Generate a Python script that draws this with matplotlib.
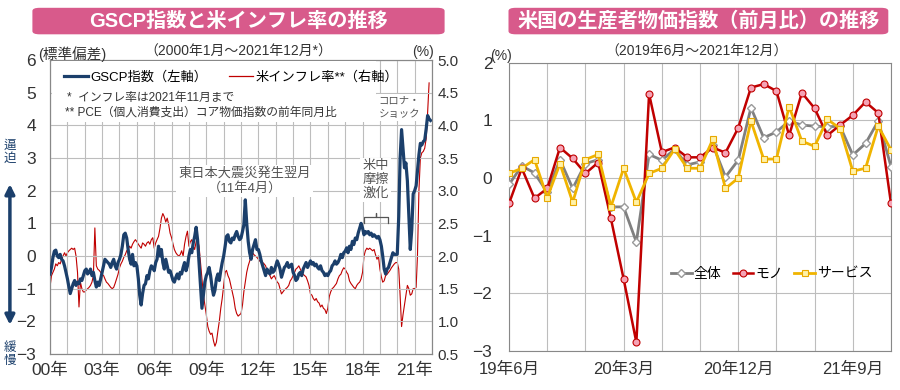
import numpy as np
import pandas as pd
import matplotlib
matplotlib.use('Agg')
import matplotlib.pyplot as plt
from matplotlib.lines import Line2D
from matplotlib.patches import FancyBboxPatch, Rectangle

plt.rcParams['font.family'] = ['Liberation Sans', 'Noto Sans CJK JP', 'DejaVu Sans']

# GSCP index, 2000-01 .. 2021-12 (standard deviations), one row per year
gscp = [
    -0.55, -0.35, -0.05, 0.15, 0.18, 0.0, -0.05, 0.05, -0.1, -0.15, -0.3, -0.5,
    -0.7, -0.95, -1.15, -1.0, -0.85, -0.75, -0.9, -0.8, -0.85, -0.7, -0.75, -0.6,
    -0.45, -0.4, -0.55, -0.5, -0.4, -0.6, -0.5, -0.75, -0.95, -0.8, -0.9, -0.7,
    -0.5, -0.3, -0.1, -0.15, -0.2, -0.25, -0.35, -0.2, -0.1, -0.3, -0.4, -0.2,
    -0.1, 0.05, 0.3, 0.65, 0.7, 0.55, 0.2, -0.1, -0.25, 0.05, -0.3, -0.2,
    -0.3, -0.7, -1.2, -1.5, -1.15, -0.9, -0.85, -0.6, -0.7, -0.45, -0.3, -0.35,
    -0.45, -0.2, -0.1, 0.3, 0.0, 0.2, -0.2, -0.4, -0.1, -0.3, -0.5, -0.45,
    -0.6, -0.75, -0.8, -0.65, -0.55, -0.7, -0.5, -0.55, -0.35, -0.2, -0.45, -0.3,
    0.0, 0.2, 0.1, 0.4, 0.6, 0.88, 0.5, -0.2, -0.9, -1.6, -1.2, -0.8,
    -0.6, -0.5, -0.35, -0.6, -0.95, -1.2, -1.05, -0.7, -0.55, -0.75, -0.45, -0.2,
    0.0, 0.3, 0.6, 0.65, 0.45, 0.4, 0.55, 0.5, 0.65, 0.75, 0.6, 0.5,
    0.55, 0.75, 0.95, 1.72, 1.0, 0.45, 0.1, -0.1, 0.2, 0.35, 0.5, 0.2,
    0.2, 0.05, -0.15, -0.3, -0.45, -0.6, -0.4, -0.5, -0.55, -0.35, -0.5, -0.45,
    -0.3, -0.15, -0.25, -0.4, -0.65, -0.5, -0.35, -0.3, -0.2, -0.35, -0.3, -0.25,
    -0.5, -0.6, -0.75, -0.7, -0.55, -0.5, -0.6, -0.4, -0.3, -0.2, -0.35, -0.25,
    -0.15, -0.25, -0.2, -0.3, -0.25, -0.35, -0.4, -0.3, -0.45, -0.5, -0.6, -0.55,
    -0.6, -0.5, -0.45, -0.3, -0.25, -0.15, -0.25, -0.2, -0.1, 0.05, -0.05, 0.1,
    0.15, 0.25, 0.1, 0.3, 0.2, 0.45, 0.35, 0.55, 0.5, 0.7, 0.85, 1.0,
    0.85, 0.65, 0.75, 0.7, 0.75, 0.65, 0.7, 0.6, 0.65, 0.6, 0.55, 0.6,
    0.5, 0.3, 0.0, -0.4, -0.55, -0.4, -0.35, -0.2, -0.05, 0.1, 0.05, 0.05,
    0.05, 1.2, 3.0, 3.87, 3.3, 2.7, 2.85, 2.3, 1.2, 0.2, 0.8, 1.9,
    2.0, 2.15, 2.6, 3.1, 3.45, 3.4, 3.5, 3.55, 3.9, 4.3, 4.2, 4.15,
]

# US core PCE inflation, year on year (%), 2000-01 .. 2021-11
core_pce = [
    1.53, 1.70, 1.75, 1.80, 1.88, 1.85, 1.90, 1.88, 1.95, 2.00, 2.05, 2.00,
    2.05, 2.08, 2.10, 2.12, 2.10, 2.12, 2.00, 1.75, 1.22, 1.60, 1.50, 1.45,
    1.45, 1.48, 1.50, 1.52, 1.55, 1.60, 1.70, 2.43, 1.85, 1.80, 1.78, 1.75,
    1.72, 1.70, 1.65, 1.60, 1.58, 1.55, 1.52, 1.50, 1.52, 1.58, 1.65, 1.72,
    1.82, 1.88, 1.92, 1.98, 2.02, 2.08, 2.10, 2.15, 2.12, 2.18, 2.22, 2.25,
    2.22, 2.18, 2.15, 2.12, 2.20, 2.18, 2.15, 2.20, 2.22, 2.18, 2.25, 2.28,
    2.12, 2.20, 2.25, 2.30, 2.42, 2.58, 2.65, 2.60, 2.52, 2.58, 2.48, 2.35,
    2.28, 2.18, 2.10, 2.05, 2.02, 2.00, 2.02, 2.08, 2.00, 2.18, 2.30, 2.38,
    2.15, 2.22, 2.25, 2.15, 2.10, 2.22, 2.25, 2.15, 1.90, 1.65, 1.40, 1.25,
    1.10, 0.92, 0.85, 0.80, 0.82, 0.70, 0.62, 0.68, 0.85, 1.00, 1.20, 1.35,
    1.55, 1.75, 1.78, 1.70, 1.65, 1.55, 1.45, 1.35, 1.20, 1.12, 1.08, 1.10,
    1.12, 1.25, 1.45, 1.60, 1.75, 1.85, 1.92, 2.00, 2.05, 2.02, 2.00, 1.98,
    1.95, 1.92, 1.95, 1.90, 1.88, 1.85, 1.78, 1.75, 1.70, 1.65, 1.68, 1.70,
    1.65, 1.60, 1.58, 1.50, 1.42, 1.45, 1.48, 1.50, 1.52, 1.55, 1.62, 1.65,
    1.70, 1.75, 1.80, 1.82, 1.85, 1.80, 1.75, 1.72, 1.70, 1.68, 1.62, 1.55,
    1.42, 1.40, 1.35, 1.32, 1.35, 1.30, 1.28, 1.22, 1.25, 1.20, 1.18, 1.12,
    1.20, 1.38, 1.45, 1.50, 1.52, 1.55, 1.58, 1.65, 1.70, 1.72, 1.78, 1.82,
    1.80, 1.75, 1.72, 1.62, 1.58, 1.55, 1.52, 1.50, 1.55, 1.58, 1.60, 1.65,
    1.75, 2.00, 2.08, 2.12, 2.10, 2.12, 2.10, 2.08, 2.10, 2.02, 1.95, 2.00,
    1.80, 1.68, 1.60, 1.62, 1.70, 1.72, 1.75, 1.78, 1.82, 1.85, 1.88, 1.90,
    1.90, 1.80, 1.40, 0.92, 1.10, 1.25, 1.40, 1.55, 1.50, 1.40, 1.42, 1.50,
    1.50, 1.52, 2.00, 3.00, 3.50, 3.58, 3.60, 3.65, 3.80, 4.20, 4.65,
]
year_ticks = ['00年', '03年', '06年', '09年', '12年', '15年', '18年', '21年']

# US PPI, month on month (%), 2019-06 .. 2021-12
ppi_total = [-0.11, 0.21, 0.09, -0.25, 0.32, -0.18, 0.25, 0.32, -0.50, -0.50, -1.11,
             0.41, 0.31, 0.50, 0.23, 0.28, 0.58, 0.02, 0.31, 1.22, 0.70, 0.80,
             0.99, 0.92, 0.90, 0.89, 0.90, 0.40, 0.60, 0.99, 0.20]
ppi_goods = [-0.44, 0.17, -0.35, -0.18, 0.53, 0.34, 0.08, 0.27, -0.70, -1.75, -2.85,
             1.46, 0.45, 0.53, 0.36, 0.36, 0.53, 0.44, 0.87, 1.57, 1.63, 1.51,
             0.74, 1.48, 1.21, 0.74, 0.92, 1.09, 1.32, 1.13, -0.44]
ppi_services = [0.08, 0.17, 0.32, -0.34, 0.25, -0.42, 0.32, 0.41, -0.50, 0.17, -0.42,
                0.08, 0.17, 0.50, 0.17, 0.17, 0.67, -0.18, 0.0, 0.99, 0.33, 0.33,
                1.24, 0.64, 0.55, 1.02, 0.86, 0.12, 0.17, 0.90, 0.49]
ppi_ticks = ['19年6月', '20年3月', '20年12月', '21年9月']

navy = '#1b3f6b'
red = '#c00000'
pink = '#d85a8b'
txt = '#333333'
grid_c = '#bdbdbd'

fig = plt.figure(figsize=(9, 3.9), dpi=100)

# ---------- left panel ----------
dates = pd.date_range('2000-01-01', periods=len(gscp), freq='MS')
pce_dates = dates[:len(core_pce)]

ax = fig.add_axes([0.0556, 0.0923, 0.4244, 0.7538])
ax2 = ax.twinx()
ax2.plot(pce_dates, core_pce, color=red, lw=0.8)
ax.plot(dates, gscp, color=navy, lw=2.3, zorder=3)
ax.set_zorder(ax2.get_zorder() + 1)
ax.patch.set_visible(False)

ax.set_ylim(-3, 6)
ax2.set_ylim(0.5, 5.0)
ax.set_yticks(range(-3, 7))
ax2.set_yticks(np.arange(0.5, 5.01, 0.5))
ax2.set_yticklabels([f'{v:.1f}' for v in np.arange(0.5, 5.01, 0.5)])
ax.set_xlim(pd.Timestamp('2000-01-01'), pd.Timestamp('2022-01-01'))
ax.set_xticks(pd.date_range('2000-01-01', '2021-01-01', freq='36MS'))
ax.set_xticklabels(year_ticks)
ax.set_xticks(pd.date_range('2000-01-01', '2022-01-01', freq='12MS'), minor=True)
ax.grid(True, which='both', axis='x', color=grid_c, lw=0.8)
ax.grid(True, which='major', axis='y', color=grid_c, lw=0.8)
ax.tick_params(axis='y', length=0, pad=10, labelsize=12.5, labelcolor=txt)
ax.tick_params(axis='x', which='both', length=0, pad=6, labelsize=12.5, labelcolor=txt)
ax2.tick_params(axis='y', length=0, pad=4, labelsize=11, labelcolor=txt)
for a in (ax, ax2):
    for s in a.spines.values():
        s.set_color('#888888')

# legend / note box
ax.add_patch(Rectangle((0.004, 0.79), 0.85, 0.205, transform=ax.transAxes,
                       facecolor='white', edgecolor='none', zorder=4))
handles = [Line2D([], [], color=navy, lw=2.3), Line2D([], [], color=red, lw=0.9)]
ax.legend(handles, ['GSCP指数（左軸）', '米インフレ率**（右軸）'], loc='upper left',
          bbox_to_anchor=(0.01, 1.0), ncol=2, frameon=False, fontsize=9.5,
          handlelength=1.8, handletextpad=0.2, columnspacing=1.6, borderpad=0.3)
ax.text(0.045, 0.872, '*  インフレ率は2021年11月まで', transform=ax.transAxes,
        fontsize=8.5, color=txt, va='center', zorder=5)
ax.text(0.04, 0.822, '** PCE（個人消費支出）コア物価指数の前年同月比', transform=ax.transAxes,
        fontsize=8.5, color=txt, va='center', zorder=5)

box = dict(facecolor='white', edgecolor='none', pad=1.5)
ax.text(0.51, 0.588, '東日本大震災発生翌月\n（11年4月）', transform=ax.transAxes,
        ha='center', va='center', fontsize=9.5, color='#555555', bbox=box,
        linespacing=1.2, zorder=5)
ax.text(0.853, 0.592, '米中\n摩擦\n激化', transform=ax.transAxes, ha='center',
        va='center', fontsize=9.5, color='#555555', bbox=box, linespacing=1.15,
        zorder=5)
ax.text(0.915, 0.838, 'コロナ・\nショック', transform=ax.transAxes, ha='center',
        va='center', fontsize=7.5, color='#555555', bbox=box, linespacing=1.4,
        zorder=5)
bx = [0.823, 0.823, 0.853, 0.853, 0.853, 0.853, 0.885, 0.885]
by = [0.445, 0.465, 0.465, 0.48, 0.48, 0.465, 0.465, 0.445]
ax.plot(bx, by, color='#555555', lw=0.9, transform=ax.transAxes, zorder=5)

fig.text(0.042, 0.86, '(標準偏差)', fontsize=10.5, color=txt, va='center')
fig.text(0.265, 0.868, '（2000年1月～2021年12月*）', fontsize=10, color=txt,
         ha='center', va='center')
fig.text(0.47, 0.866, '(%)', fontsize=10, color=txt, ha='center', va='center')

# pressure arrow
fig.text(0.011, 0.61, '逼\n迫', fontsize=9, color=navy, ha='center', va='center',
         linespacing=1.1)
fig.text(0.011, 0.092, '緩\n慢', fontsize=9, color=navy, ha='center', va='center',
         linespacing=1.1)
ax.annotate('', xy=(0.011, 0.535), xytext=(0.011, 0.16), xycoords='figure fraction',
            arrowprops=dict(arrowstyle='<|-|>', color=navy, lw=2.5, mutation_scale=14))

# ---------- right panel ----------
bx2 = fig.add_axes([0.5656, 0.10, 0.4244, 0.739])
mx = np.arange(len(ppi_total))
bx2.plot(mx, ppi_total, color='#808080', lw=2, marker='D', ms=3.8,
         mfc='white', mec='#9a9a9a', label='全体', zorder=3)
bx2.plot(mx, ppi_goods, color=red, lw=1.8, marker='o', ms=5,
         mfc='#f5a3b5', mec=red, mew=0.8, label='モノ', zorder=4)
bx2.plot(mx, ppi_services, color='#f0b400', lw=2, marker='s', ms=5,
         mfc='#fff2a8', mec='#e8a800', mew=0.8, label='サービス', zorder=5)
bx2.set_xlim(0, len(ppi_total) - 1)
bx2.set_ylim(-3, 2)
bx2.set_yticks(range(-3, 3))
bx2.set_xticks(np.arange(0, len(ppi_total), 3), minor=True)
bx2.set_xticks(np.arange(0, len(ppi_total), 9))
bx2.set_xticklabels(ppi_ticks)
bx2.grid(True, which='both', axis='x', color=grid_c, lw=0.8)
bx2.grid(True, which='major', axis='y', color=grid_c, lw=0.8)
bx2.tick_params(axis='y', length=0, pad=12, labelsize=12.5, labelcolor=txt)
bx2.tick_params(axis='x', which='both', length=0, pad=8, labelsize=12, labelcolor=txt)
for s in bx2.spines.values():
    s.set_color('#888888')
bx2.legend(loc='lower right', bbox_to_anchor=(0.985, 0.2), ncol=3, frameon=False,
           fontsize=10, handlelength=1.5, handletextpad=0.15, columnspacing=0.8)
fig.text(0.545, 0.857, '(%)', fontsize=10, color=txt, ha='left', va='center')
fig.text(0.774, 0.868, '（2019年6月～2021年12月）', fontsize=10, color=txt,
         ha='center', va='center')

# title boxes
for x0, x1, title in [(0.036, 0.494, 'GSCP指数と米インフレ率の推移'),
                      (0.565, 0.987, '米国の生産者物価指数（前月比）の推移')]:
    fig.patches.append(FancyBboxPatch((x0, 0.912), x1 - x0, 0.068,
                                      boxstyle='round,pad=0,rounding_size=0.008',
                                      transform=fig.transFigure, facecolor=pink,
                                      edgecolor='none'))
    fig.text((x0 + x1) / 2, 0.946, title, color='white', fontsize=14.5,
             fontweight='bold', ha='center', va='center')

fig.savefig('out.png', dpi=100)
